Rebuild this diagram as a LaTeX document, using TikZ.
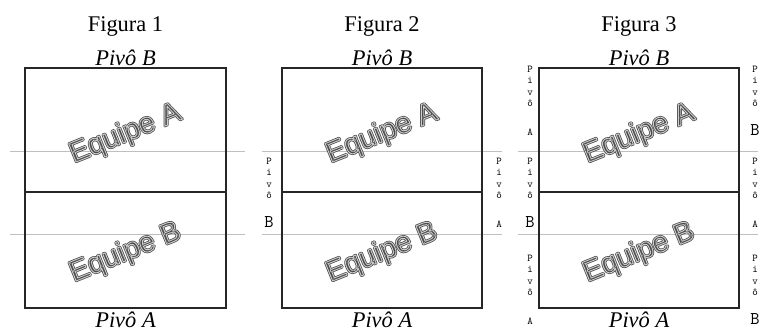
\documentclass[tikz,border=0pt]{standalone}
\usepackage{fontspec}
\setmainfont{Liberation Serif}
\newfontfamily\sansf{Liberation Sans}
\newcommand{\hollowtext}[1]{\rlap{\color{white}\special{pdf:literal direct 1 j 2 Tr 2.4 w 0.3 G}#1\special{pdf:literal direct 0 Tr}}{\special{pdf:literal direct 1 j 1 Tr 0.9 w 0.8 G}#1\special{pdf:literal direct 0 Tr}}}
\newcommand{\vpivo}[5]{%
  \node[vl] (#1-p) at (#2,#3) {P};
  \node[vl] (#1-i) at (#2,#3+11.5) {i};
  \node[vl] (#1-v) at (#2,#3+23) {v};
  \node[vl] (#1-o) at (#2,#3+34.5) {ô};
  \node[#5] (#1-l) at (#2,#3+63) {#4};
}
\begin{document}
\begin{tikzpicture}[x=1bp,y=-1bp,
  court/.style={draw=black!85,line width=1.1bp},
  gline/.style={draw=black!25,line width=0.9bp},
  title/.style={font=\fontsize{22.5}{26}\selectfont,inner sep=0,anchor=base},
  pivo/.style={font=\fontsize{22.5}{26}\selectfont\itshape,inner sep=0,anchor=base},
  team/.style={font=\sansf\fontsize{29}{32}\selectfont,rotate=22,inner sep=0},
  vl/.style={font=\ttfamily\fontsize{10.5}{12}\selectfont\addfontfeatures{FakeBold=1.5},anchor=base,inner sep=0},
  vb/.style={font=\ttfamily\fontsize{18}{20}\selectfont,anchor=base,inner sep=0},
]
\useasboundingbox[fill=white] (0,0) rectangle (763,332);
% gray lines
\draw[gline] (10,151) -- (245,151);
\draw[gline] (10,234) -- (245,234);
\draw[gline] (262,151) -- (502,151);
\draw[gline] (262,234) -- (502,234);
\draw[gline] (518,151) -- (758,151);
\draw[gline] (518,234) -- (758,234);
% courts
\draw[court] (25,68) rectangle (226,308);
\draw[court] (25,192) -- (226,192);
\draw[court] (282,68) rectangle (482,308);
\draw[court] (282,192) -- (482,192);
\draw[court] (539,68) rectangle (739,308);
\draw[court] (539,192) -- (739,192);
% titles
\node[title] (t1) at (125.5,31) {Figura 1};
\node[title] (t2) at (382,31) {Figura 2};
\node[title] (t3) at (639,31) {Figura 3};
\node[pivo] (pb1) at (125.5,65) {Pivô B};
\node[pivo] (pb2) at (382,65) {Pivô B};
\node[pivo] (pb3) at (639,65) {Pivô B};
\node[pivo] (pa1) at (125.5,327) {Pivô A};
\node[pivo] (pa2) at (382,327) {Pivô A};
\node[pivo] (pa3) at (639,327) {Pivô A};
% teams
\node[team] (ea1) at (125.5,134) {\hollowtext{Equipe A}};
\node[team] (eb1) at (125.5,253) {\hollowtext{Equipe B}};
\node[team] (ea2) at (382,134) {\hollowtext{Equipe A}};
\node[team] (eb2) at (382,253) {\hollowtext{Equipe B}};
\node[team] (ea3) at (639,134) {\hollowtext{Equipe A}};
\node[team] (eb3) at (639,253) {\hollowtext{Equipe B}};
% vertical labels
\vpivo{f2l}{269}{164}{B}{vb}
\vpivo{f2r}{499}{164}{A}{vl}
\vpivo{f3lt}{530}{72}{A}{vl}
\vpivo{f3lm}{530}{164}{B}{vb}
\vpivo{f3lb}{530}{261}{A}{vl}
\vpivo{f3rt}{755}{72}{B}{vb}
\vpivo{f3rm}{755}{164}{A}{vl}
\vpivo{f3rb}{755}{261}{B}{vb}
\end{tikzpicture}
\end{document}
